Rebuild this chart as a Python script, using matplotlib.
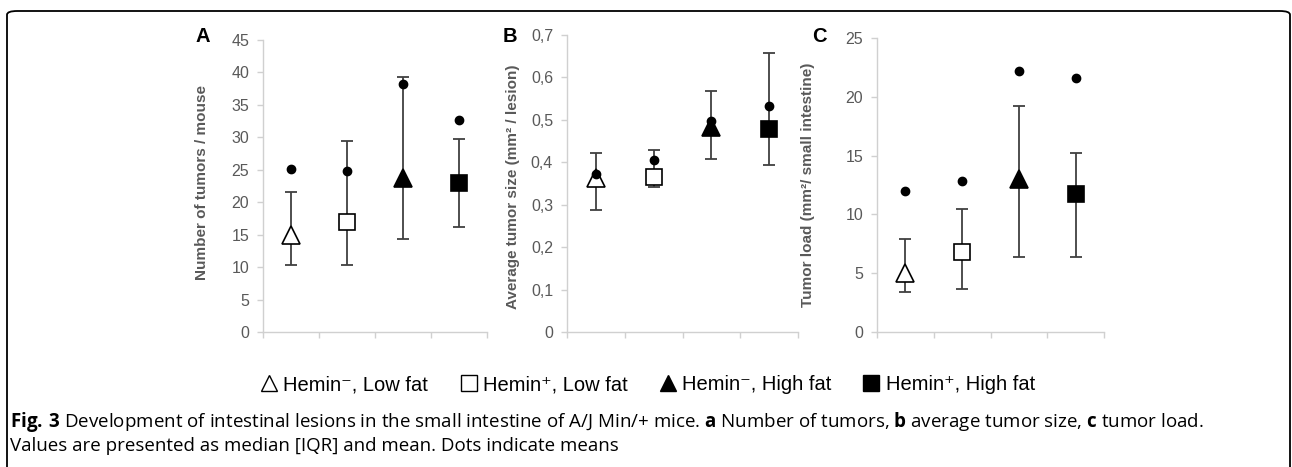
import matplotlib
matplotlib.use("Agg")
import matplotlib.pyplot as plt
from matplotlib.lines import Line2D
from matplotlib.patches import FancyBboxPatch

plt.rcParams["mathtext.fontset"] = "custom"
plt.rcParams["mathtext.rm"] = "Open Sans"
plt.rcParams["mathtext.bf"] = "Open Sans:bold"

# groups, in plot order
groups = ["Hemin\u207b, Low fat", "Hemin\u207a, Low fat",
          "Hemin\u207b, High fat", "Hemin\u207a, High fat"]
markers = ["^", "s", "^", "s"]
faces = ["white", "white", "black", "black"]

# A: number of tumors / mouse
a_median = [15.0, 17.0, 23.8, 23.0]
a_q1 = [10.4, 10.4, 14.4, 16.2]
a_q3 = [21.5, 29.5, 39.3, 29.7]
a_mean = [25.1, 24.75, 38.2, 32.7]

# B: average tumor size (mm2 / lesion)
b_median = [0.364, 0.365, 0.482, 0.478]
b_q1 = [0.288, 0.342, 0.408, 0.394]
b_q3 = [0.423, 0.429, 0.567, 0.657]
b_mean = [0.373, 0.406, 0.498, 0.532]

# C: tumor load (mm2 / small intestine)
c_median = [5.0, 6.8, 13.0, 11.7]
c_q1 = [3.4, 3.65, 6.4, 6.35]
c_q3 = [7.9, 10.5, 19.2, 15.2]
c_mean = [12.0, 12.8, 22.2, 21.6]

panels = [
    ("A", "Number of tumors / mouse", a_median, a_q1, a_q3, a_mean,
     (0, 45), [0, 5, 10, 15, 20, 25, 30, 35, 40, 45],
     ["0", "5", "10", "15", "20", "25", "30", "35", "40", "45"]),
    ("B", "Average tumor size (mm\u00b2 / lesion)", b_median, b_q1, b_q3, b_mean,
     (0, 0.7), [0, 0.1, 0.2, 0.3, 0.4, 0.5, 0.6, 0.7],
     ["0", "0,1", "0,2", "0,3", "0,4", "0,5", "0,6", "0,7"]),
    ("C", "Tumor load (mm\u00b2/ small intestine)", c_median, c_q1, c_q3, c_mean,
     (0, 25), [0, 5, 10, 15, 20, 25],
     ["0", "5", "10", "15", "20", "25"]),
]

W, H = 1292, 467
fig = plt.figure(figsize=(W / 100, H / 100), dpi=100)
sans = ["Liberation Sans", "DejaVu Sans"]

# axes boxes in pixels: left, right, top (for ymax), bottom
boxes = [(263, 487, 40, 332), (567, 798, 35, 332), (877, 1104, 38, 332)]
ylab_x = [202, 513, 808]
ylab_y = [182, 187, 185]
letter_x = [203, 510, 819]

grey = "#595959"
axis_grey = "#d0d0d0"

for (letter, ylabel, med, q1, q3, mean, ylim, yt, ytl), (l, r, t, b), yx, yy, lx in zip(
        panels, boxes, ylab_x, ylab_y, letter_x):
    ax = fig.add_axes([l / W, 1 - b / H, (r - l) / W, (b - t) / H])
    xs = [0.5, 1.5, 2.5, 3.5]
    for i in range(4):
        ax.errorbar(xs[i], med[i], yerr=[[med[i] - q1[i]], [q3[i] - med[i]]],
                    fmt="none", ecolor="#404040", elinewidth=1.3, capsize=4.5,
                    capthick=1.3, zorder=2)
        ax.plot(xs[i], med[i], marker=markers[i], markersize=13 if markers[i] == "^" else 12,
                markerfacecolor=faces[i], markeredgecolor="black",
                markeredgewidth=1.2, linestyle="none", zorder=3)
        ax.plot(xs[i], mean[i], marker="o", markersize=6, color="black",
                linestyle="none", zorder=4)
    ax.set_xlim(0, 4)
    ax.set_ylim(*ylim)
    ax.set_xticks([0, 1, 2, 3, 4])
    ax.set_xticklabels([])
    ax.set_yticks(yt)
    ax.set_yticklabels(ytl, family=sans, fontsize=11.5, color=grey)
    for s in ["top", "right"]:
        ax.spines[s].set_visible(False)
    for s in ["left", "bottom"]:
        ax.spines[s].set_color(axis_grey)
        ax.spines[s].set_linewidth(1)
    ax.tick_params(axis="both", color=axis_grey, length=4, width=1, pad=6)
    ax.spines["left"].set_zorder(0)
    fig.text(yx / W, 1 - yy / H, ylabel, rotation=90, ha="center",
             va="center", family=sans, fontsize=11, fontweight="bold", color=grey)
    fig.text(lx / W, 1 - 37 / H, letter, ha="center", va="center",
             family=sans, fontsize=14.5, fontweight="bold", color="black")

# legend
handles = [Line2D([], [], marker=m, markersize=12 if m == "^" else 11,
                  markerfacecolor=f, markeredgecolor="black", markeredgewidth=1,
                  linestyle="none") for m, f in zip(markers, faces)]
fig.legend(handles, groups, loc="center", bbox_to_anchor=(648 / W, 1 - 385 / H),
           ncol=4, frameon=False, handlelength=0.8, handletextpad=0.3,
           columnspacing=1.6, prop={"family": sans, "size": 14.5})

# caption
cap_font = ["Open Sans", "DejaVu Sans"]
fig.text(10 / W, 1 - 422 / H,
         "$\\mathbf{Fig.}\\,\\mathbf{3}$ Development of intestinal lesions in the small intestine of A/J Min/+ mice. "
         "$\\mathbf{a}$ Number of tumors, $\\mathbf{b}$ average tumor size, $\\mathbf{c}$ tumor load.",
         family=cap_font, fontsize=13.5, va="center", ha="left")
fig.text(10 / W, 1 - 446 / H,
         "Values are presented as median [IQR] and mean. Dots indicate means",
         family=cap_font, fontsize=13.5, va="center", ha="left")

# rounded frame around the figure
frame = FancyBboxPatch((7 / W, -20 / H), (1290 - 7) / W, (H - 11 + 20) / H,
                       boxstyle="round,pad=0,rounding_size=0.008",
                       transform=fig.transFigure, fill=False,
                       edgecolor="black", linewidth=1.3)
fig.add_artist(frame)

fig.savefig("out.png", dpi=100)
